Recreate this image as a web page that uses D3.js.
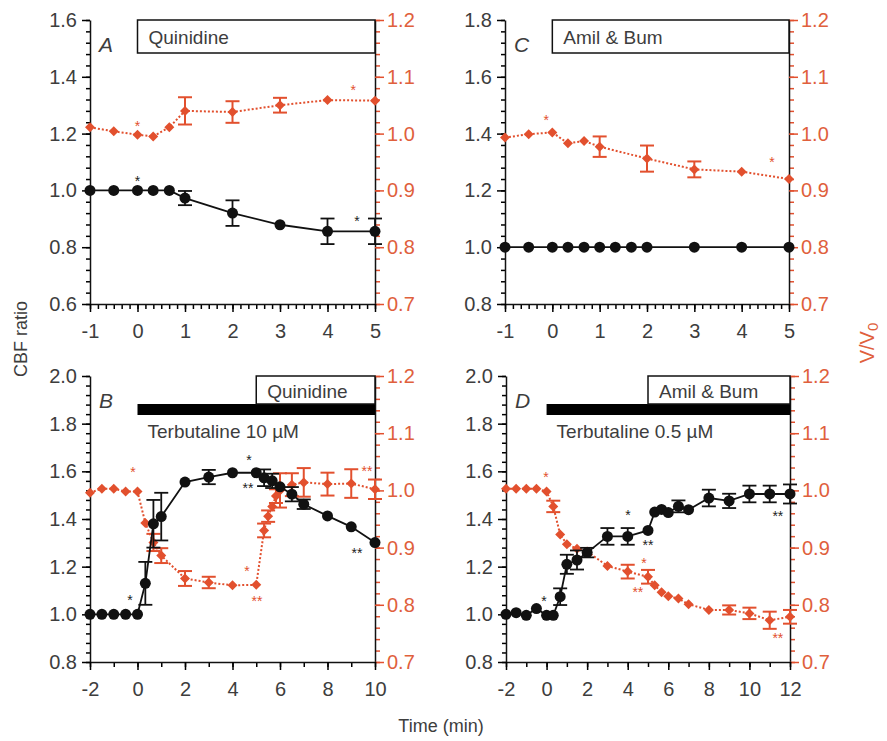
<!DOCTYPE html>
<html>
<head>
<meta charset="utf-8">
<script src="https://cdn.jsdelivr.net/npm/d3@7"></script>
<style>
  body { margin: 0; background: #fff; }
  text { font-family: "Liberation Sans", Arial, sans-serif; }
</style>
</head>
<body>
<script>
// ---- data ----
// panel A: quinidine
const timeA = [-1, -0.5, 0, 0.33, 0.67, 1, 2, 3, 4, 5];
const cbfA = [1.0, 1.0, 1.0, 1.0, 1.0, 0.973, 0.92, 0.879, 0.856, 0.856];
const cbfErrA = [0, 0, 0, 0, 0, 0.025, 0.045, 0, 0.045, 0.045];
const volA = [1.011, 1.004, 0.998, 0.995, 1.011, 1.04, 1.038, 1.05, 1.059, 1.058];
const volErrA = [0, 0, 0, 0, 0, 0.024, 0.019, 0.013, 0, 0];
const starsA = [
  { t: 0, v: 1.044, axis: "L", s: "*" },
  { t: 0, v: 1.019, axis: "R", s: "*" },
  { t: 4.54, v: 1.082, axis: "R", s: "*" },
  { t: 4.62, v: 0.903, axis: "L", s: "*" }
];

// panel C: amiloride & bumetanide
const timeCbfC = [-1, -0.5, 0, 0.33, 0.67, 1, 1.33, 1.67, 2, 3, 4, 5];
const cbfC = [1, 1, 1, 1, 1, 1, 1, 1, 1, 1, 1, 1];
const cbfErrC = [0, 0, 0, 0, 0, 0, 0, 0, 0, 0, 0, 0];
const timeVolC = [-1, -0.5, 0, 0.33, 0.67, 1, 2, 3, 4, 5];
const volC = [0.993, 0.999, 1.002, 0.983, 0.987, 0.977, 0.956, 0.937, 0.933, 0.92];
const volErrC = [0, 0, 0, 0, 0, 0.018, 0.023, 0.014, 0, 0];
const starsC = [
  { t: -0.13, v: 1.029, axis: "R", s: "*" },
  { t: 4.64, v: 0.955, axis: "R", s: "*" }
];

// panel B: terbutaline 10 uM then quinidine
const timeCbfB = [-2, -1.5, -1, -0.5, 0, 0.33, 0.67, 1, 2, 3, 4, 5, 5.33, 5.67, 6, 6.5, 7, 8, 9, 10];
const cbfB = [1, 1, 1, 1, 1, 1.13, 1.38, 1.41, 1.555, 1.576, 1.594, 1.594, 1.573, 1.56, 1.535, 1.504, 1.462, 1.413, 1.367, 1.301];
const cbfErrB = [0, 0, 0, 0, 0, 0.09, 0.1, 0.1, 0, 0.03, 0, 0, 0.035, 0.03, 0, 0.03, 0.02, 0, 0, 0];
const timeVolB = [-2, -1.5, -1, -0.5, 0, 0.33, 0.67, 1, 2, 3, 4, 5, 5.33, 5.5, 5.67, 5.83, 6, 6.5, 7, 8, 9, 10];
const volB = [0.996, 1.003, 1.003, 0.998, 0.998, 0.943, 0.909, 0.886, 0.846, 0.839, 0.834, 0.835, 0.93, 0.955, 0.972, 0.99, 1.0, 1.01, 1.014, 1.011, 1.012, 1.002];
const volErrB = [0, 0, 0, 0, 0, 0, 0.015, 0.013, 0.013, 0.01, 0, 0, 0.012, 0.01, 0, 0.012, 0.03, 0.02, 0.025, 0.02, 0.025, 0.017];
const starsB = [
  { t: -0.32, v: 1.073, axis: "L", s: "*" },
  { t: 4.69, v: 1.66, axis: "L", s: "*" },
  { t: 4.65, v: 1.543, axis: "L", s: "**" },
  { t: 9.24, v: 1.27, axis: "L", s: "**" },
  { t: -0.19, v: 1.037, axis: "R", s: "*" },
  { t: 4.61, v: 0.864, axis: "R", s: "*" },
  { t: 5.03, v: 0.812, axis: "R", s: "**" },
  { t: 9.66, v: 1.039, axis: "R", s: "**" }
];

// panel D: terbutaline 0.5 uM then amiloride & bumetanide
const timeCbfD = [-2, -1.5, -1, -0.5, 0, 0.33, 0.67, 1, 1.5, 2, 3, 4, 5, 5.33, 5.67, 6, 6.5, 7, 8, 9, 10, 11, 12];
const cbfD = [1.0, 1.007, 0.996, 1.024, 0.996, 0.996, 1.074, 1.21, 1.228, 1.259, 1.327, 1.327, 1.352, 1.429, 1.44, 1.427, 1.453, 1.439, 1.488, 1.476, 1.505, 1.505, 1.505];
const cbfErrD = [0, 0, 0, 0, 0, 0, 0.035, 0.04, 0.04, 0.02, 0.035, 0.035, 0, 0, 0, 0, 0.025, 0, 0.035, 0.03, 0.035, 0.035, 0.04];
const timeVolD = [-2, -1.5, -1, -0.5, 0, 0.33, 0.67, 1, 1.5, 2, 3, 4, 5, 5.33, 5.67, 6, 6.5, 7, 8, 9, 10, 11, 12];
const volD = [1.003, 1.003, 1.003, 1.003, 0.998, 0.972, 0.923, 0.906, 0.898, 0.893, 0.868, 0.858, 0.849, 0.834, 0.822, 0.815, 0.811, 0.801, 0.791, 0.791, 0.785, 0.773, 0.779];
const volErrD = [0, 0, 0, 0, 0, 0.01, 0, 0, 0, 0, 0, 0.012, 0.012, 0, 0, 0, 0, 0, 0, 0.008, 0.01, 0.015, 0.012];
const starsD = [
  { t: -0.13, v: 1.068, axis: "L", s: "*" },
  { t: 4.01, v: 1.429, axis: "L", s: "*" },
  { t: 5.0, v: 1.305, axis: "L", s: "**" },
  { t: 11.4, v: 1.425, axis: "L", s: "**" },
  { t: -0.03, v: 1.029, axis: "R", s: "*" },
  { t: 4.8, v: 0.878, axis: "R", s: "*" },
  { t: 4.5, v: 0.828, axis: "R", s: "**" },
  { t: 11.4, v: 0.747, axis: "R", s: "**" }
];

const rightDomain = [0.7, 1.2];

const RED = "#e2502e";
const RED_TEXT = "#e0603c";
const GREY = "#3d3d3d";

const svg = d3.select("body").append("svg")
  .attr("width", 887)
  .attr("height", 741);

function steps(lo, hi, step) {
  const n = Math.round((hi - lo) / step);
  return d3.range(n + 1).map(i => +(lo + i * step).toFixed(4));
}

function drawPanel(p) {
  const g = svg.append("g");
  const x = d3.scaleLinear().domain(p.xDom).range([p.x0, p.x1]);
  const yL = d3.scaleLinear().domain(p.lDom).range([p.y1, p.y0]);
  const yR = d3.scaleLinear().domain(rightDomain).range([p.y1, p.y0]);

  // left axis
  g.append("g").attr("transform", `translate(${p.x0},0)`)
    .call(d3.axisLeft(yL).tickValues(steps(p.lDom[0], p.lDom[1], 0.04)).tickSize(4).tickFormat(""))
    .call(a => a.select(".domain").remove());
  g.append("g").attr("transform", `translate(${p.x0},0)`)
    .call(d3.axisLeft(yL).tickValues(steps(p.lDom[0], p.lDom[1], 0.2)).tickSize(8).tickSizeOuter(0).tickPadding(5).tickFormat(d3.format(".1f")))
    .call(a => a.selectAll("text").attr("fill", GREY).style("font-size", "20px"));

  // right axis (red ticks, black line)
  g.append("g").attr("transform", `translate(${p.x1},0)`)
    .call(d3.axisRight(yR).tickValues(steps(0.7, 1.2, 0.02)).tickSize(5).tickFormat(""))
    .call(a => a.select(".domain").remove())
    .call(a => a.selectAll("line").attr("stroke", RED).attr("stroke-width", 1.5));
  g.append("g").attr("transform", `translate(${p.x1},0)`)
    .call(d3.axisRight(yR).tickValues(steps(0.7, 1.2, 0.1)).tickSize(9).tickSizeOuter(0).tickPadding(3).tickFormat(d3.format(".1f")))
    .call(a => a.selectAll("line").attr("stroke", RED).attr("stroke-width", 1.5))
    .call(a => a.selectAll("text").attr("fill", RED_TEXT).style("font-size", "20px"));

  // bottom axis
  g.append("g").attr("transform", `translate(0,${p.y1})`)
    .call(d3.axisBottom(x).tickValues(steps(p.xDom[0], p.xDom[1], p.xMinor)).tickSize(5).tickFormat(""))
    .call(a => a.select(".domain").remove());
  g.append("g").attr("transform", `translate(0,${p.y1})`)
    .call(d3.axisBottom(x).tickValues(steps(p.xDom[0], p.xDom[1], p.xMajor)).tickSize(8).tickSizeOuter(0).tickPadding(12).tickFormat(d => String(d)))
    .call(a => a.selectAll("text").attr("fill", GREY).style("font-size", "20px"));

  g.selectAll(".domain").attr("stroke", "#111").attr("stroke-width", 1.5);
  g.selectAll(".tick line").attr("stroke-width", 1.5);

  // treatment boxes
  if (p.terb) {
    g.append("rect")
      .attr("x", x(0)).attr("y", p.y0 + 28)
      .attr("width", x(p.xDom[1]) - x(0)).attr("height", 11)
      .attr("fill", "#000");
    g.append("text").attr("x", x(0) + 10).attr("y", p.y0 + 62)
      .attr("fill", GREY).style("font-size", "19px").text(p.terb);
  }
  g.append("rect")
    .attr("x", x(p.drugStart)).attr("y", p.y0)
    .attr("width", x(p.xDom[1]) - x(p.drugStart)).attr("height", p.terb ? 28 : 33)
    .attr("fill", "#fff").attr("stroke", "#111").attr("stroke-width", 1.5);
  g.append("text").attr("x", x(p.drugStart) + 11).attr("y", p.y0 + (p.terb ? 22 : 24))
    .attr("fill", GREY).style("font-size", "19px").text(p.drug);

  g.append("text").attr("x", p.x0 + 9).attr("y", p.y0 + 32)
    .attr("fill", GREY).style("font-size", "21px").style("font-style", "italic").text(p.letter);

  // V/V0 series
  const vol = d3.zip(p.volT, p.vol, p.volErr).map(([t, v, e]) => ({ t, v, e }));
  const cbf = d3.zip(p.cbfT, p.cbf, p.cbfErr).map(([t, v, e]) => ({ t, v, e }));

  g.append("path").datum(vol)
    .attr("fill", "none").attr("stroke", RED).attr("stroke-width", 2)
    .attr("stroke-dasharray", "2,2")
    .attr("d", d3.line().x(d => x(d.t)).y(d => yR(d.v)));
  const ve = g.append("g").attr("stroke", RED).attr("stroke-width", 2)
    .selectAll("g").data(vol.filter(d => d.e > 0)).join("g");
  ve.append("line").attr("x1", d => x(d.t)).attr("x2", d => x(d.t))
    .attr("y1", d => yR(d.v - d.e)).attr("y2", d => yR(d.v + d.e));
  ve.append("line").attr("x1", d => x(d.t) - 7).attr("x2", d => x(d.t) + 7)
    .attr("y1", d => yR(d.v - d.e)).attr("y2", d => yR(d.v - d.e));
  ve.append("line").attr("x1", d => x(d.t) - 7).attr("x2", d => x(d.t) + 7)
    .attr("y1", d => yR(d.v + d.e)).attr("y2", d => yR(d.v + d.e));
  g.append("g").selectAll("path").data(vol).join("path")
    .attr("d", d3.symbol(d3.symbolSquare, 50))
    .attr("transform", d => `translate(${x(d.t)},${yR(d.v)}) rotate(45)`)
    .attr("fill", RED);

  // CBF series
  g.append("path").datum(cbf)
    .attr("fill", "none").attr("stroke", "#111").attr("stroke-width", 1.8)
    .attr("d", d3.line().x(d => x(d.t)).y(d => yL(d.v)));
  const ce = g.append("g").attr("stroke", "#111").attr("stroke-width", 1.8)
    .selectAll("g").data(cbf.filter(d => d.e > 0)).join("g");
  ce.append("line").attr("x1", d => x(d.t)).attr("x2", d => x(d.t))
    .attr("y1", d => yL(d.v - d.e)).attr("y2", d => yL(d.v + d.e));
  ce.append("line").attr("x1", d => x(d.t) - 7).attr("x2", d => x(d.t) + 7)
    .attr("y1", d => yL(d.v - d.e)).attr("y2", d => yL(d.v - d.e));
  ce.append("line").attr("x1", d => x(d.t) - 7).attr("x2", d => x(d.t) + 7)
    .attr("y1", d => yL(d.v + d.e)).attr("y2", d => yL(d.v + d.e));
  g.append("g").selectAll("circle").data(cbf).join("circle")
    .attr("cx", d => x(d.t)).attr("cy", d => yL(d.v)).attr("r", 5.5)
    .attr("fill", "#111");

  // significance marks
  g.append("g").selectAll("text").data(p.stars).join("text")
    .attr("x", d => x(d.t))
    .attr("y", d => (d.axis === "L" ? yL(d.v) : yR(d.v)) + 8)
    .attr("text-anchor", "middle")
    .attr("fill", d => d.axis === "L" ? "#222" : RED)
    .style("font-size", "14px")
    .text(d => d.s);
}

drawPanel({
  letter: "A", drug: "Quinidine", drugStart: 0,
  x0: 90, x1: 375, y0: 20, y1: 304,
  xDom: [-1, 5], xMajor: 1, xMinor: 1 / 6, lDom: [0.6, 1.6],
  cbfT: timeA, cbf: cbfA, cbfErr: cbfErrA,
  volT: timeA, vol: volA, volErr: volErrA, stars: starsA
});
drawPanel({
  letter: "C", drug: "Amil & Bum", drugStart: 0,
  x0: 505, x1: 789, y0: 20, y1: 304,
  xDom: [-1, 5], xMajor: 1, xMinor: 1 / 6, lDom: [0.8, 1.8],
  cbfT: timeCbfC, cbf: cbfC, cbfErr: cbfErrC,
  volT: timeVolC, vol: volC, volErr: volErrC, stars: starsC
});
drawPanel({
  letter: "B", drug: "Quinidine", drugStart: 5, terb: "Terbutaline 10 µM",
  x0: 90, x1: 375, y0: 376, y1: 662,
  xDom: [-2, 10], xMajor: 2, xMinor: 1, lDom: [0.8, 2.0],
  cbfT: timeCbfB, cbf: cbfB, cbfErr: cbfErrB,
  volT: timeVolB, vol: volB, volErr: volErrB, stars: starsB
});
drawPanel({
  letter: "D", drug: "Amil & Bum", drugStart: 5, terb: "Terbutaline 0.5 µM",
  x0: 506, x1: 790, y0: 376, y1: 662,
  xDom: [-2, 12], xMajor: 2, xMinor: 1, lDom: [0.8, 2.0],
  cbfT: timeCbfD, cbf: cbfD, cbfErr: cbfErrD,
  volT: timeVolD, vol: volD, volErr: volErrD, stars: starsD
});

// axis titles
svg.append("text")
  .attr("transform", "translate(27,339) rotate(-90)")
  .attr("text-anchor", "middle").attr("fill", GREY)
  .style("font-size", "18px").text("CBF ratio");

const vt = svg.append("text")
  .attr("transform", "translate(874,343) rotate(-90)")
  .attr("text-anchor", "middle").attr("fill", RED_TEXT)
  .style("font-size", "20px");
vt.append("tspan").text("V/V");
vt.append("tspan").attr("dy", 4).style("font-size", "15px").text("0");

svg.append("text")
  .attr("x", 441).attr("y", 732)
  .attr("text-anchor", "middle").attr("fill", GREY)
  .style("font-size", "18px").text("Time (min)");
</script>
</body>
</html>
